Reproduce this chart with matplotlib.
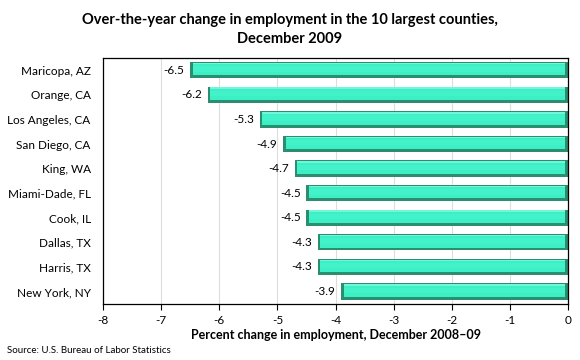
import matplotlib
matplotlib.use("Agg")
import matplotlib.pyplot as plt
import numpy as np

plt.rcParams['font.family'] = ['Lato', 'DejaVu Sans']

counties = ["Maricopa, AZ", "Orange, CA", "Los Angeles, CA", "San Diego, CA",
            "King, WA", "Miami-Dade, FL", "Cook, IL", "Dallas, TX",
            "Harris, TX", "New York, NY"]
change = [-6.5, -6.2, -5.3, -4.9, -4.7, -4.5, -4.5, -4.3, -4.3, -3.9]
xticks = [-8, -7, -6, -5, -4, -3, -2, -1, 0]

vals = np.array(change)
y = np.arange(len(counties))

fig = plt.figure(figsize=(5.8, 3.6), dpi=100)
ax = fig.add_axes([0.178, 0.156, 0.801, 0.683])

h = 0.66
# bevelled bars: dark base, main face, light top strip
ax.barh(y, vals, height=h, color='#2B8E6E', zorder=2)
dl, dr = 0.04, 0.05
ax.barh(y - 0.045, vals + dl + dr, left=-dr, height=0.51, color='#3DEFC4', zorder=3)
ax.barh(y - 0.05, vals + dl + dr, left=-dr, height=0.22, color='#44F2C9', zorder=3)
ax.barh(y - 0.27, vals + dl + dr, left=-dr, height=0.06, color='#72F6DA', zorder=4)

for yi, v in zip(y, vals):
    ax.text(v - 0.1, yi, f"{v:.1f}", ha='right', va='center', fontsize=8.5, zorder=5)

ax.set_xlim(-8, 0)
ax.set_ylim(len(counties) - 0.5, -0.5)
ax.set_xticks(xticks)
ax.set_xticklabels([str(t) for t in xticks], fontsize=8.5)
ax.set_yticks(y)
ax.set_yticklabels(counties, fontsize=8.5)
ax.tick_params(axis='y', length=0, pad=9)
ax.tick_params(axis='x', direction='out', length=4, width=0.8, pad=4)
ax.grid(axis='x', color='#DDDDDD', linewidth=0.8, zorder=0)
ax.set_axisbelow(True)
for s in ax.spines.values():
    s.set_linewidth(0.9)
    s.set_color('black')

ax.set_xlabel("Percent change in employment, December 2008\u201309",
              fontsize=9, fontweight='bold', labelpad=2)
fig.text(0.5, 0.965, "Over-the-year change in employment in the 10 largest counties,\nDecember 2009",
         ha='center', va='top', fontsize=10.5, fontweight='bold', linespacing=1.5)
fig.text(0.012, 0.015, "Source: U.S. Bureau of Labor Statistics", fontsize=7, ha='left', va='bottom')

fig.savefig("out.png", dpi=100)
